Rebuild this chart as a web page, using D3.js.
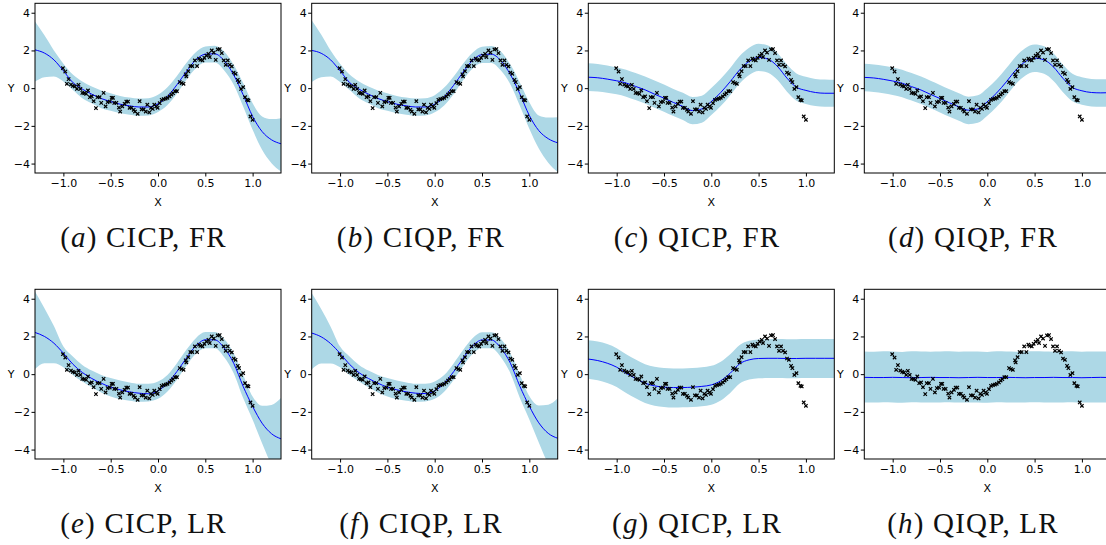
<!DOCTYPE html>
<html>
<head>
<meta charset="utf-8">
<script src="https://cdn.jsdelivr.net/npm/d3@7"></script>
<style>
  html, body { margin: 0; padding: 0; background: #fff; }
  svg { display: block; }
</style>
</head>
<body>
<svg id="chart" width="1106" height="545"></svg>
<script>
// ---------------- data ----------------
const dataX = [-1.005,-0.98,-0.945,-0.963,-0.92,-0.90,-0.88,-0.857,-0.84,-0.82,-0.80,-0.78,-0.76,-0.74,-0.72,-0.70,-0.68,-0.656,-0.64,-0.617,-0.60,-0.575,-0.554,-0.533,-0.51,-0.49,-0.476,-0.462,-0.44,-0.413,-0.40,-0.377,-0.353,-0.335,-0.317,-0.30,-0.28,-0.257,-0.243,-0.215,-0.194,-0.173,-0.152,-0.13,-0.113,-0.092,-0.074,-0.056,-0.039,-0.018,-0.004,0.018,0.039,0.06,0.081,0.10,0.123,0.141,0.159,0.18,0.20,0.23,0.25,0.27,0.293,0.30,0.32,0.342,0.363,0.39,0.413,0.434,0.448,0.47,0.49,0.511,0.533,0.547,0.568,0.589,0.61,0.631,0.652,0.674,0.695,0.716,0.737,0.758,0.78,0.80,0.82,0.843,0.857,0.878,0.90,0.92,0.942,0.956,0.977,1.0];
const dataY = [1.06,0.88,0.48,0.23,0.19,0.12,0.09,-0.04,0.18,-0.04,-0.25,-0.27,-0.30,-0.12,-0.48,-0.44,-0.69,-1.06,-0.48,-0.48,-0.78,-0.25,-0.97,-0.74,-0.71,-0.51,-0.51,-0.78,-0.78,-1.03,-1.24,-0.97,-0.83,-0.71,-0.71,-1.04,-1.04,-1.15,-1.24,-1.36,-0.69,-1.13,-1.13,-1.24,-0.88,-1.29,-1.04,-1.10,-0.88,-0.97,-1.04,-0.80,-0.62,-0.58,-0.55,-0.51,-0.44,-0.34,-0.27,-0.16,-0.16,0.32,0.27,0.23,0.73,0.62,0.90,1.17,1.17,1.47,1.17,1.56,1.50,1.47,1.61,1.73,1.82,1.65,2.0,1.89,1.50,2.05,2.07,1.86,1.47,1.24,1.47,1.24,1.15,0.83,0.76,0.44,0.32,-0.04,0.05,-0.48,-0.62,-0.65,-1.50,-1.68];

const gridX = [-1.3,-1.2,-1.1,-1.0,-0.9,-0.8,-0.7,-0.6,-0.5,-0.4,-0.3,-0.2,-0.1,0.0,0.1,0.2,0.3,0.4,0.5,0.6,0.7,0.8,0.9,1.0,1.1,1.2,1.3];

const meanA  = [2.03,1.86,1.5,0.92,0.3,-0.05,-0.32,-0.55,-0.71,-0.85,-0.94,-1.0,-1.0,-0.83,-0.44,0.18,0.88,1.5,1.8,1.82,1.45,0.7,-0.35,-1.5,-2.3,-2.74,-2.95];
const upperA = [3.54,2.8,2.0,1.3,0.72,0.35,0.09,-0.12,-0.27,-0.41,-0.5,-0.55,-0.53,-0.35,0.05,0.65,1.33,1.9,2.21,2.25,1.95,1.24,0.27,-0.8,-1.5,-1.64,-1.59];
const lowerA = [0.35,0.58,0.62,0.35,-0.1,-0.53,-0.8,-1.06,-1.2,-1.33,-1.41,-1.47,-1.45,-1.27,-0.9,-0.3,0.44,1.06,1.36,1.36,0.94,0.18,-0.97,-2.21,-3.27,-3.98,-4.42];

const meanB  = [2.0,1.85,1.5,0.92,0.3,-0.05,-0.32,-0.55,-0.71,-0.85,-0.94,-1.0,-1.0,-0.85,-0.46,0.15,0.85,1.47,1.78,1.8,1.45,0.72,-0.3,-1.45,-2.25,-2.68,-2.9];
const upperB = [3.6,2.85,2.0,1.3,0.72,0.35,0.09,-0.12,-0.27,-0.41,-0.5,-0.55,-0.53,-0.37,0.03,0.62,1.3,1.88,2.2,2.23,1.95,1.25,0.3,-0.75,-1.45,-1.56,-1.54];
const lowerB = [0.32,0.58,0.62,0.33,-0.1,-0.53,-0.8,-1.06,-1.2,-1.33,-1.41,-1.47,-1.45,-1.28,-0.92,-0.33,0.42,1.04,1.34,1.34,0.93,0.2,-0.93,-2.15,-3.2,-3.95,-4.45];

const meanC  = [0.58,0.55,0.48,0.39,0.27,0.09,-0.09,-0.32,-0.53,-0.76,-0.97,-1.19,-1.1,-0.71,-0.23,0.35,0.97,1.42,1.63,1.54,1.15,0.53,0.05,-0.12,-0.23,-0.27,-0.27];
const upperC = [1.32,1.28,1.2,1.1,0.98,0.8,0.62,0.4,0.19,-0.04,-0.25,-0.47,-0.4,0.01,0.5,1.07,1.7,2.14,2.35,2.26,1.87,1.25,0.78,0.6,0.49,0.46,0.45];
const lowerC = [-0.15,-0.18,-0.25,-0.33,-0.45,-0.63,-0.81,-1.04,-1.25,-1.48,-1.69,-1.92,-1.84,-1.43,-0.95,-0.37,0.25,0.7,0.91,0.82,0.43,-0.19,-0.67,-0.84,-0.95,-0.99,-0.99];

const meanD  = [0.57,0.54,0.47,0.38,0.26,0.08,-0.1,-0.33,-0.55,-0.78,-0.99,-1.17,-1.1,-0.72,-0.25,0.33,0.95,1.4,1.59,1.5,1.12,0.52,0.04,-0.14,-0.23,-0.25,-0.24];
const upperD = [1.29,1.26,1.19,1.1,0.98,0.8,0.62,0.39,0.17,-0.06,-0.27,-0.45,-0.38,0.0,0.47,1.05,1.67,2.12,2.31,2.22,1.84,1.24,0.76,0.58,0.49,0.47,0.48];
const lowerD = [-0.17,-0.2,-0.27,-0.36,-0.48,-0.66,-0.84,-1.07,-1.29,-1.52,-1.73,-1.91,-1.84,-1.46,-0.99,-0.41,0.21,0.66,0.85,0.76,0.38,-0.22,-0.7,-0.88,-0.97,-0.99,-0.98];

const meanE  = [2.21,2.0,1.64,1.11,0.53,0.09,-0.23,-0.48,-0.69,-0.83,-0.94,-1.01,-1.04,-0.88,-0.48,0.14,0.85,1.5,1.82,1.82,1.38,0.58,-0.65,-1.71,-2.6,-3.16,-3.43];
const upperE = [4.38,3.5,2.55,1.47,0.94,0.49,0.19,-0.04,-0.21,-0.34,-0.44,-0.51,-0.51,-0.39,-0.04,0.58,1.29,1.91,2.23,2.23,1.86,1.11,-0.04,-1.18,-1.68,-1.63,-1.27];
const lowerE = [0.27,0.58,0.58,0.37,-0.04,-0.39,-0.69,-0.97,-1.18,-1.33,-1.41,-1.47,-1.45,-1.31,-0.92,-0.3,0.44,1.08,1.38,1.38,0.9,0.05,-1.27,-2.42,-3.66,-4.8,-5.5];

const meanF  = [2.18,1.98,1.62,1.1,0.52,0.08,-0.23,-0.48,-0.69,-0.83,-0.94,-1.01,-1.03,-0.88,-0.49,0.13,0.84,1.49,1.81,1.81,1.38,0.58,-0.64,-1.7,-2.58,-3.14,-3.4];
const upperF = [4.3,3.45,2.52,1.46,0.93,0.49,0.19,-0.04,-0.21,-0.34,-0.44,-0.51,-0.51,-0.39,-0.05,0.57,1.28,1.9,2.22,2.22,1.86,1.11,-0.03,-1.16,-1.66,-1.62,-1.28];
const lowerF = [0.25,0.56,0.57,0.36,-0.05,-0.39,-0.69,-0.97,-1.18,-1.33,-1.41,-1.47,-1.45,-1.31,-0.93,-0.31,0.43,1.07,1.37,1.37,0.9,0.05,-1.26,-2.4,-3.62,-4.75,-5.45];

const meanG  = [0.8,0.72,0.58,0.37,0.05,-0.23,-0.48,-0.62,-0.69,-0.71,-0.71,-0.69,-0.65,-0.57,-0.35,0.05,0.55,0.76,0.83,0.84,0.84,0.83,0.83,0.84,0.84,0.84,0.84];
const upperG = [1.8,1.73,1.6,1.38,1.06,0.78,0.53,0.39,0.32,0.3,0.3,0.32,0.36,0.44,0.66,1.06,1.55,1.77,1.84,1.85,1.86,1.85,1.85,1.86,1.86,1.86,1.86];
const lowerG = [-0.25,-0.33,-0.47,-0.68,-1.0,-1.28,-1.53,-1.67,-1.74,-1.77,-1.76,-1.74,-1.7,-1.62,-1.4,-1.0,-0.5,-0.29,-0.22,-0.21,-0.21,-0.22,-0.22,-0.21,-0.21,-0.21,-0.21];

const meanH  = [-0.17,-0.18,-0.18,-0.17,-0.18,-0.19,-0.18,-0.17,-0.18,-0.18,-0.19,-0.18,-0.17,-0.18,-0.18,-0.17,-0.18,-0.19,-0.18,-0.18,-0.17,-0.18,-0.18,-0.19,-0.18,-0.17,-0.18];
const upperH = [1.2,1.19,1.21,1.2,1.18,1.21,1.2,1.19,1.2,1.21,1.19,1.2,1.2,1.18,1.21,1.2,1.19,1.2,1.21,1.2,1.19,1.2,1.21,1.19,1.2,1.2,1.19];
const lowerH = [-1.5,-1.51,-1.49,-1.5,-1.52,-1.49,-1.5,-1.51,-1.5,-1.49,-1.51,-1.5,-1.5,-1.52,-1.49,-1.5,-1.51,-1.5,-1.49,-1.5,-1.51,-1.5,-1.49,-1.51,-1.5,-1.5,-1.51];

const panelLetters = ["a","b","c","d","e","f","g","h"];
const panelNames = ["CICP, FR","CIQP, FR","QICP, FR","QIQP, FR","CICP, LR","CIQP, LR","QICP, LR","QIQP, LR"];
const xTicks = [-1.0,-0.5,0.0,0.5,1.0];
const yTicks = [-4,-2,0,2,4];
const xDomain = [-1.3, 1.3];
const yDomain = [-4.5, 4.5];

const panels = [
  {mean: meanA, upper: upperA, lower: lowerA},
  {mean: meanB, upper: upperB, lower: lowerB},
  {mean: meanC, upper: upperC, lower: lowerC},
  {mean: meanD, upper: upperD, lower: lowerD},
  {mean: meanE, upper: upperE, lower: lowerE},
  {mean: meanF, upper: upperF, lower: lowerF},
  {mean: meanG, upper: upperG, lower: lowerG},
  {mean: meanH, upper: upperH, lower: lowerH}
];

// ---------------- layout ----------------
const svg = d3.select("#chart");
svg.append("rect").attr("width",1106).attr("height",545).attr("fill","#fff");

const colLeft = [35, 311.7, 588.3, 864.3];
const rowTop = [3.3, 289.3];
const pw = 246, ph = 169.7;
const captionCenter = [143.5, 421, 697, 973];
const captionBaseline = [247, 533];

const points = dataX.map((x,i)=>({x, y: dataY[i]}));

panels.forEach((p, idx) => {
  const col = idx % 4, row = Math.floor(idx / 4);
  const left = colLeft[col], top = rowTop[row];
  const g = svg.append("g").attr("transform", `translate(${left},${top})`);
  const x = d3.scaleLinear().domain(xDomain).range([0, pw]);
  const y = d3.scaleLinear().domain(yDomain).range([ph, 0]);

  const clipId = "clip" + idx;
  g.append("clipPath").attr("id", clipId).append("rect").attr("width", pw).attr("height", ph);
  const plot = g.append("g").attr("clip-path", `url(#${clipId})`);

  const rows = gridX.map((gx,i)=>({x: gx, m: p.mean[i], u: p.upper[i], l: p.lower[i]}));

  plot.append("path").datum(rows)
    .attr("fill", "#add8e6")
    .attr("d", d3.area().x(d=>x(d.x)).y0(d=>y(d.l)).y1(d=>y(d.u)).curve(d3.curveMonotoneX));

  plot.append("path").datum(rows)
    .attr("fill", "none").attr("stroke", "#0000ff").attr("stroke-width", 1)
    .attr("d", d3.line().x(d=>x(d.x)).y(d=>y(d.m)).curve(d3.curveMonotoneX));

  plot.selectAll("path.pt").data(points).enter().append("path")
    .attr("class","pt")
    .attr("transform", d=>`translate(${x(d.x)},${y(d.y)})`)
    .attr("d", "M-1.7,-1.7L1.7,1.7M-1.7,1.7L1.7,-1.7")
    .attr("stroke", "#000").attr("stroke-width", 1.2).attr("fill","none");

  // axes
  const xa = g.append("g").attr("transform", `translate(0,${ph})`)
    .call(d3.axisBottom(x).tickValues(xTicks).tickFormat(d3.format(".1f")).tickSize(3.5).tickPadding(3));
  const ya = g.append("g")
    .call(d3.axisLeft(y).tickValues(yTicks).tickFormat(d3.format("d")).tickSize(3.5).tickPadding(1.5));
  [xa, ya].forEach(a => {
    a.select(".domain").remove();
    a.selectAll("text").attr("font-family","DejaVu Sans").attr("font-size","11px").attr("fill","#000");
    a.selectAll("line").attr("stroke","#000");
  });

  g.append("rect").attr("width", pw).attr("height", ph)
    .attr("fill","none").attr("stroke","#000").attr("stroke-width",1);

  g.append("text").attr("x", pw/2).attr("y", ph + 33)
    .attr("text-anchor","middle").attr("font-family","DejaVu Sans").attr("font-size","11px").text("X");
  g.append("text").attr("x", -24).attr("y", y(0)).attr("dy","0.36em")
    .attr("text-anchor","middle").attr("font-family","DejaVu Sans").attr("font-size","11px").text("Y");

  // caption
  const cap = svg.append("text")
    .attr("x", captionCenter[col]).attr("y", captionBaseline[row])
    .attr("text-anchor","middle")
    .attr("font-family","'Liberation Serif', 'Times New Roman', serif").attr("font-size","29px")
    .attr("letter-spacing","1.2px").attr("fill","#111");
  cap.append("tspan").text("(");
  cap.append("tspan").attr("font-style","italic").text(panelLetters[idx]);
  cap.append("tspan").text(") " + panelNames[idx]);
});
</script>
</body>
</html>
